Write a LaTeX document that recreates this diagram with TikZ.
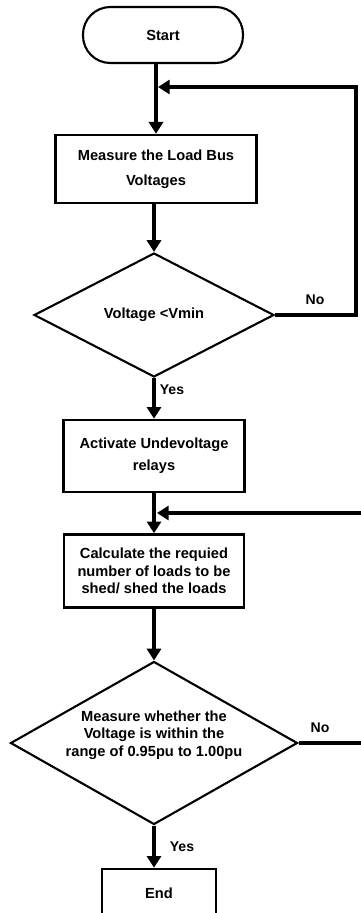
\documentclass[tikz,border=0pt]{standalone}
\usepackage{fontspec}
\setmainfont{Liberation Sans}
\usetikzlibrary{shapes.geometric,arrows.meta}

\tikzset{
  terminal/.style={draw, line width=1.8pt, rounded corners=0.82cm,
    minimum width=4.8cm, minimum height=1.68cm},
  process/.style={draw, line width=2.2pt, align=center, inner sep=0pt},
  decision/.style={draw, diamond, line width=1.8pt, align=center, inner sep=0pt},
  flow/.style={line width=2.6pt, -{Triangle[width=12pt,length=10pt]}},
  lbl/.style={font=\bfseries\fontsize{12}{14}\selectfont}
}

\begin{document}
\begin{tikzpicture}[x=0.03cm,y=-0.03cm,
    every node/.style={font=\bfseries\fontsize{12.5}{15}\selectfont}]
    \useasboundingbox (0,0) rectangle (361,913);
    \clip (0,0) rectangle (361,913);

    % main column
    \node[terminal] (start) at (163,35) {Start};
    \node[process, minimum width=6.03cm, minimum height=2.04cm] (measure) at (156,169)
      {Measure the Load Bus\\[6pt]Voltages};
    \node[decision, minimum width=7.2cm, minimum height=3.72cm] (dec1) at (154,315)
      {Voltage <Vmin};
    \node[process, minimum width=5.43cm, minimum height=2.16cm] (relay) at (154,456)
      {Activate Undevoltage\\[3.5pt]relays};
    \node[process, minimum width=5.4cm, minimum height=2.19cm] (shed) at (154,571)
      {Calculate the requied\\number of loads to be\\shed/ shed the loads};
    \node[decision, minimum width=8.61cm, minimum height=4.89cm] (dec2) at (154,743) {};
    \node[align=center] (dec2text) at (154,735)
      {Measure whether the\\Voltage is within the\\range of 0.95pu to 1.00pu};
    \node[process, minimum width=3.42cm, minimum height=1.44cm] (stop) at (159,893) {End};

    % labels
    \node[lbl] (no1) at (315,300) {No};
    \node[lbl] (yes1) at (172,390) {Yes};
    \node[lbl] (no2) at (320,728) {No};
    \node[lbl] (yes2) at (182,847) {Yes};

    % return points
    \coordinate (join1) at (158,87);
    \coordinate (turn1) at (356,87);
    \coordinate (join2) at (157,513);
    \coordinate (turn2) at (375,513);

    % connectors
    \draw[flow] (measure.north |- start.south) -- (measure.north);
    \draw[flow] (measure.south -| dec1.north) -- (dec1.north);
    \draw[flow] (dec1) -- (relay);
    \draw[flow] (relay) -- (shed);
    \draw[flow] (shed) -- (dec2);
    \draw[flow] (dec2.south) -- (dec2.south |- stop.north);
    \draw[flow] (dec1.east) -| (turn1) -- (join1);
    \draw[flow] (dec2.east) -| (turn2) -- (join2);
  \end{tikzpicture}
\end{document}
